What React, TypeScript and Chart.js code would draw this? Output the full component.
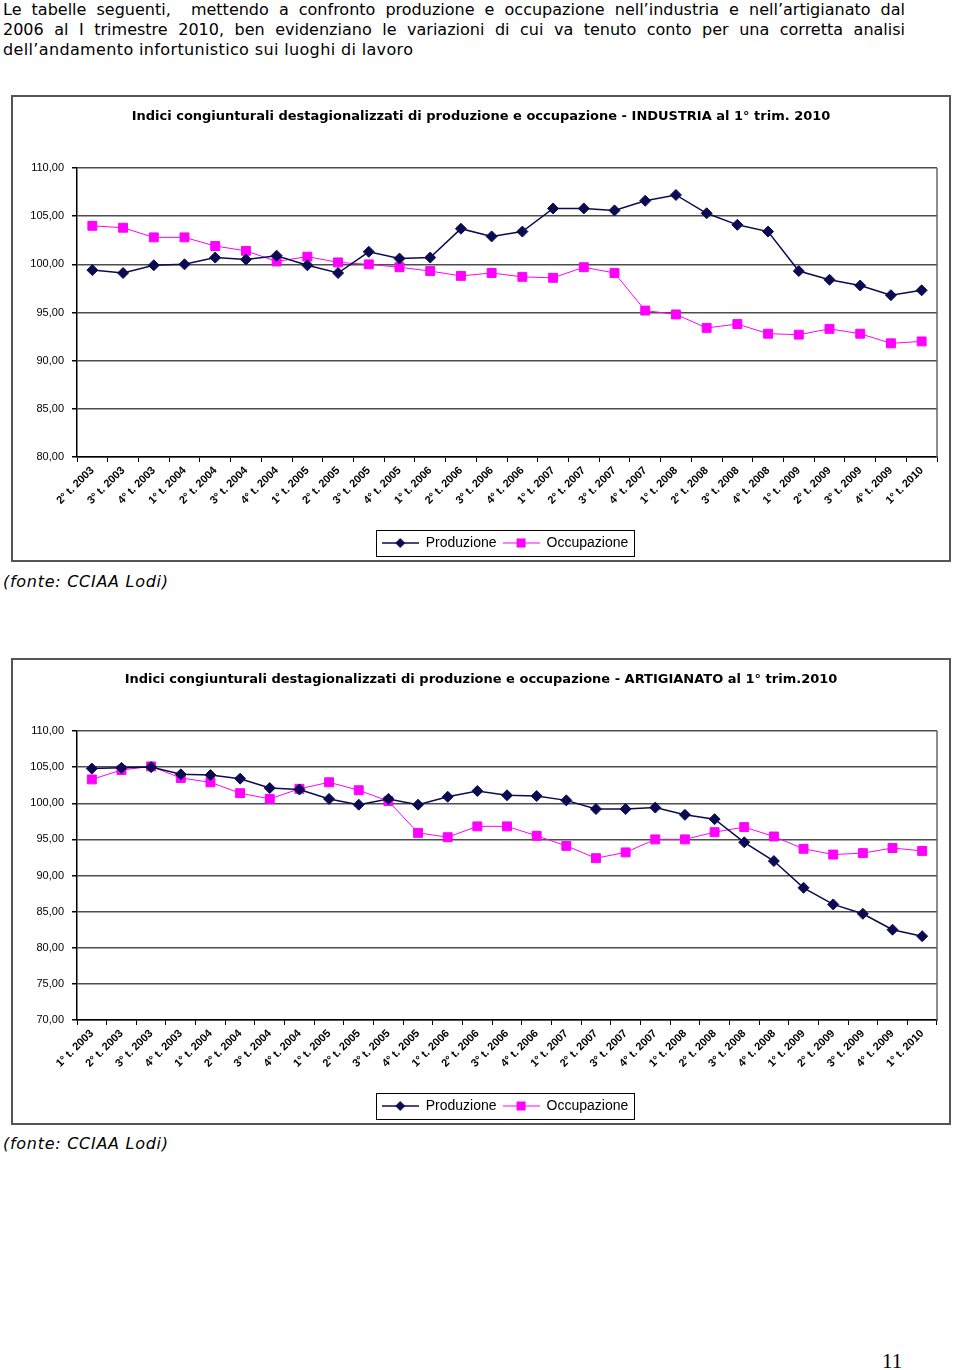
import React, { useEffect, useRef } from 'react';
import { Chart, registerables } from 'chart.js';

Chart.register(...registerables);

// ---------- DATA ----------
const labelsIndustria = [
  '2° t. 2003', '3° t. 2003', '4° t. 2003',
  '1° t. 2004', '2° t. 2004', '3° t. 2004', '4° t. 2004',
  '1° t. 2005', '2° t. 2005', '3° t. 2005', '4° t. 2005',
  '1° t. 2006', '2° t. 2006', '3° t. 2006', '4° t. 2006',
  '1° t. 2007', '2° t. 2007', '3° t. 2007', '4° t. 2007',
  '1° t. 2008', '2° t. 2008', '3° t. 2008', '4° t. 2008',
  '1° t. 2009', '2° t. 2009', '3° t. 2009', '4° t. 2009',
  '1° t. 2010',
];
const produzioneIndustria = [
  99.4, 99.1, 99.9, 100.0, 100.7, 100.5, 100.9, 99.9, 99.1, 101.3, 100.6, 100.7,
  103.7, 102.9, 103.4, 105.8, 105.8, 105.6, 106.6, 107.2, 105.3, 104.1, 103.4,
  99.3, 98.4, 97.8, 96.8, 97.3,
];
const occupazioneIndustria = [
  104.0, 103.8, 102.8, 102.8, 101.9, 101.4, 100.3, 100.8, 100.2, 100.0, 99.7, 99.3,
  98.8, 99.1, 98.7, 98.6, 99.7, 99.1, 95.2, 94.8, 93.4, 93.8, 92.8, 92.7, 93.3,
  92.8, 91.8, 92.0,
];

const labelsArtigianato = [
  '1° t. 2003', '2° t. 2003', '3° t. 2003', '4° t. 2003',
  '1° t. 2004', '2° t. 2004', '3° t. 2004', '4° t. 2004',
  '1° t. 2005', '2° t. 2005', '3° t. 2005', '4° t. 2005',
  '1° t. 2006', '2° t. 2006', '3° t. 2006', '4° t. 2006',
  '1° t. 2007', '2° t. 2007', '3° t. 2007', '4° t. 2007',
  '1° t. 2008', '2° t. 2008', '3° t. 2008', '4° t. 2008',
  '1° t. 2009', '2° t. 2009', '3° t. 2009', '4° t. 2009',
  '1° t. 2010',
];
const produzioneArtigianato = [
  104.8, 104.9, 105.0, 104.0, 103.9, 103.4, 102.1, 101.9, 100.6, 99.8, 100.6, 99.8,
  100.9, 101.7, 101.1, 101.0, 100.4, 99.2, 99.2, 99.4, 98.4, 97.8, 94.6, 92.0,
  88.3, 86.0, 84.7, 82.5, 81.6,
];
const occupazioneArtigianato = [
  103.3, 104.6, 105.1, 103.5, 102.9, 101.4, 100.6, 102.0, 102.9, 101.8, 100.3,
  95.9, 95.3, 96.8, 96.8, 95.5, 94.1, 92.4, 93.2, 95.0, 95.0, 96.0, 96.7, 95.4,
  93.7, 92.9, 93.1, 93.8, 93.4,
];

const seriesNames = ['Produzione', 'Occupazione'];
const titleIndustria =
  'Indici congiunturali destagionalizzati di produzione e occupazione - INDUSTRIA al 1° trim. 2010';
const titleArtigianato =
  'Indici congiunturali destagionalizzati di produzione e occupazione - ARTIGIANATO al 1° trim.2010';

// ---------- STYLE ----------
const NAVY = '#0b0b52';
const MAGENTA = '#ff00ff';
const FONT = 'Liberation Sans, Arial, sans-serif';
const TITLE_FONT = '"DejaVu Sans", Verdana, sans-serif';
const LEGEND_SHIFT = 30;
const TITLE_SHIFT = 6;

function makeMarker(color: string, kind: 'diamond' | 'square') {
  const c = document.createElement('canvas');
  c.width = 37;
  c.height = 14;
  const ctx = c.getContext('2d')!;
  ctx.strokeStyle = color;
  ctx.lineWidth = kind === 'diamond' ? 1.5 : 1;
  ctx.beginPath();
  ctx.moveTo(0, 7);
  ctx.lineTo(37, 7);
  ctx.stroke();
  ctx.fillStyle = color;
  ctx.beginPath();
  if (kind === 'diamond') {
    ctx.moveTo(18.5, 2);
    ctx.lineTo(23.5, 7);
    ctx.lineTo(18.5, 12);
    ctx.lineTo(13.5, 7);
    ctx.closePath();
  } else {
    ctx.rect(14, 2.5, 9, 9);
  }
  ctx.fill();
  return c;
}

const frameDecor = {
  id: 'frameDecor',
  afterUpdate(chart: any) {
    const lg = chart.legend;
    if (lg) {
      lg.left += LEGEND_SHIFT;
      lg.right += LEGEND_SHIFT;
      if (lg.legendHitBoxes) {
        for (const h of lg.legendHitBoxes) h.left += LEGEND_SHIFT;
      }
    }
    const tb = chart.titleBlock;
    if (tb) {
      tb.left += TITLE_SHIFT;
      tb.right += TITLE_SHIFT;
    }
  },
  afterDraw(chart: any) {
    const ctx = chart.ctx;
    const a = chart.chartArea;
    ctx.save();
    ctx.strokeStyle = '#666';
    ctx.lineWidth = 1.5;
    ctx.beginPath();
    ctx.moveTo(a.right, a.top);
    ctx.lineTo(a.right, a.bottom);
    ctx.stroke();
    const lg = chart.legend;
    if (lg && lg.legendHitBoxes && lg.legendHitBoxes.length) {
      const b = lg.legendHitBoxes;
      const l = Math.min(...b.map((h: any) => h.left)) - 6;
      const r = Math.max(...b.map((h: any) => h.left + h.width)) + 5;
      const t = Math.min(...b.map((h: any) => h.top)) - 6;
      const bt = Math.max(...b.map((h: any) => h.top + h.height)) + 6;
      ctx.strokeStyle = '#000';
      ctx.lineWidth = 1;
      ctx.strokeRect(Math.round(l) + 0.5, Math.round(t) + 0.5, Math.round(r - l), Math.round(bt - t));
    }
    ctx.restore();
  },
};

type PanelProps = {
  top: number;
  title: string;
  labels: string[];
  prod: number[];
  occ: number[];
  yMin: number;
};

function Panel({ top, title, labels, prod, occ, yMin }: PanelProps) {
  const ref = useRef<HTMLCanvasElement | null>(null);
  useEffect(() => {
    if (!ref.current) return;
    const markers = [makeMarker(NAVY, 'diamond'), makeMarker(MAGENTA, 'square')];
    const chart = new Chart(ref.current, {
      type: 'line',
      data: {
        labels,
        datasets: [
          {
            label: seriesNames[0],
            data: prod,
            borderColor: NAVY,
            backgroundColor: NAVY,
            borderWidth: 1.5,
            pointStyle: 'rectRot',
            pointRadius: 5.5,
            pointBackgroundColor: NAVY,
            pointBorderColor: NAVY,
            pointBorderWidth: 1,
            tension: 0,
          },
          {
            label: seriesNames[1],
            data: occ,
            borderColor: MAGENTA,
            backgroundColor: MAGENTA,
            borderWidth: 1,
            pointStyle: 'rect',
            pointRadius: 6.3,
            pointBackgroundColor: MAGENTA,
            pointBorderColor: MAGENTA,
            pointBorderWidth: 1,
            tension: 0,
          },
        ],
      },
      options: {
        animation: false,
        responsive: false,
        events: [],
        layout: { padding: { left: 0, right: 12, top: 0, bottom: 0 } },
        plugins: {
          title: {
            display: true,
            text: title,
            color: '#000',
            font: { family: TITLE_FONT, size: 13, weight: 'bold' },
            padding: { top: 11.5, bottom: 43.9 },
          },
          legend: {
            position: 'bottom',
            labels: {
              usePointStyle: true,
              pointStyleWidth: 37,
              padding: 6,
              color: '#000',
              font: { family: FONT, size: 14 },
              generateLabels: (ch: any) =>
                ch.data.datasets.map((ds: any, i: number) => ({
                  text: ds.label,
                  pointStyle: markers[i],
                  fillStyle: ds.borderColor,
                  strokeStyle: ds.borderColor,
                  lineWidth: 0,
                  hidden: false,
                  datasetIndex: i,
                  fontColor: '#000',
                })),
            },
          },
          tooltip: { enabled: false },
        },
        scales: {
          x: {
            offset: true,
            grid: {
              offset: true,
              drawOnChartArea: false,
              drawTicks: true,
              tickLength: 5,
              color: '#000',
            },
            border: { color: '#000', width: 1.5 },
            ticks: {
              autoSkip: false,
              maxRotation: 45,
              minRotation: 45,
              padding: 2,
              color: '#000',
              font: { family: FONT, size: 11, weight: 'bold' },
            },
            afterFit: (s: any) => {
              s.height = 73;
            },
          },
          y: {
            min: yMin,
            max: 110,
            ticks: {
              stepSize: 5,
              padding: 8,
              color: '#000',
              font: { family: FONT, size: 11 },
              callback: (v: any) => Number(v).toFixed(2).replace('.', ','),
            },
            grid: {
              color: '#4d4d4d',
              lineWidth: 1.5,
              tickLength: 5,
              tickColor: '#000',
            },
            border: { color: '#000', width: 1.5 },
            afterFit: (s: any) => {
              s.width = 64;
            },
          },
        },
      },
      plugins: [frameDecor],
    } as any);
    return () => chart.destroy();
  }, []);

  return (
    <div
      style={{
        position: 'absolute',
        left: 11,
        top,
        width: 940,
        height: 467,
        boxSizing: 'border-box',
        border: '2px solid #555',
        background: '#fff',
      }}
    >
      <canvas ref={ref} width={936} height={463} style={{ display: 'block', width: 936, height: 463 }} />
    </div>
  );
}

const textStyle: React.CSSProperties = {
  position: 'absolute',
  left: 3,
  width: 902,
  fontFamily: '"DejaVu Sans", Verdana, sans-serif',
  fontSize: 16,
  lineHeight: '20px',
  letterSpacing: '0.36px',
  color: '#000',
  whiteSpace: 'nowrap',
};

const fonteStyle: React.CSSProperties = {
  ...textStyle,
  fontStyle: 'italic',
  letterSpacing: '0.72px',
};

export default function App() {
  return (
    <div style={{ position: 'absolute', left: 0, top: 0, width: 960, height: 1370, background: '#fff' }}>
      <div style={{ ...textStyle, top: 0, letterSpacing: 0, textAlign: 'justify', textAlignLast: 'justify' }}>
        Le tabelle seguenti,&nbsp; mettendo a confronto produzione e occupazione nell’industria e nell’artigianato dal
      </div>
      <div style={{ ...textStyle, top: 20, letterSpacing: 0, textAlign: 'justify', textAlignLast: 'justify' }}>
        2006 al I trimestre 2010, ben evidenziano le variazioni di cui va tenuto conto per una corretta analisi
      </div>
      <div style={{ ...textStyle, top: 40 }}>dell’andamento infortunistico sui luoghi di lavoro</div>

      <Panel
        top={95}
        title={titleIndustria}
        labels={labelsIndustria}
        prod={produzioneIndustria}
        occ={occupazioneIndustria}
        yMin={80}
      />
      <div style={{ ...fonteStyle, top: 572 }}>(fonte: CCIAA Lodi)</div>

      <Panel
        top={658}
        title={titleArtigianato}
        labels={labelsArtigianato}
        prod={produzioneArtigianato}
        occ={occupazioneArtigianato}
        yMin={70}
      />
      <div style={{ ...fonteStyle, top: 1134 }}>(fonte: CCIAA Lodi)</div>

      <div
        style={{
          position: 'absolute',
          left: 882,
          top: 1349,
          fontFamily: '"Liberation Serif", "Times New Roman", serif',
          fontSize: 21,
          lineHeight: '24px',
          color: '#000',
        }}
      >
        11
      </div>
    </div>
  );
}
